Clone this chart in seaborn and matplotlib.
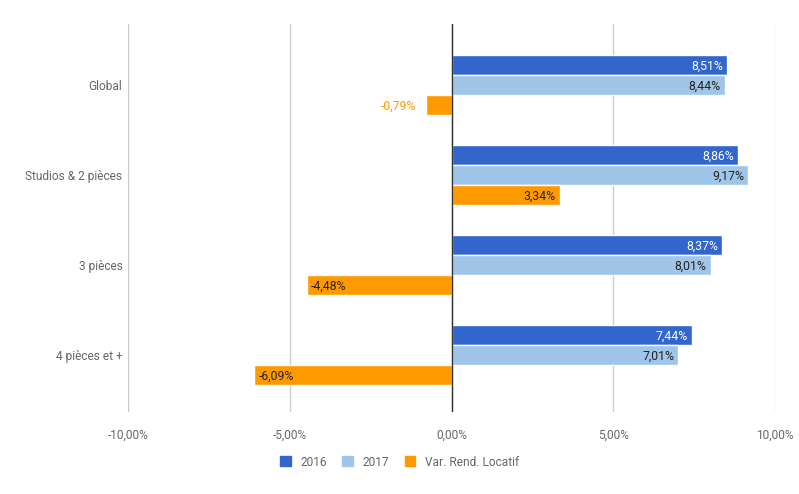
import pandas as pd
import numpy as np
import matplotlib.pyplot as plt
import seaborn as sns
from matplotlib.patches import Patch

# Data
categories = ["Global", "Studios & 2 pièces", "3 pièces", "4 pièces et +"]
series = ["2016", "2017", "Var. Rend. Locatif"]
val_2016 = [8.51, 8.86, 8.37, 7.44]
val_2017 = [8.44, 9.17, 8.01, 7.01]
val_var = [-0.79, 3.34, -4.48, -6.09]
colors = ["#3366CC", "#9FC5E8", "#FF9900"]
label_colors = ["white", "#222222", "#222222"]

df = pd.DataFrame({
    "categorie": categories * 3,
    "serie": [s for s in series for _ in categories],
    "valeur": val_2016 + val_2017 + val_var,
})

sns.set_style("white")
plt.rcParams["font.family"] = ["Roboto", "DejaVu Sans"]

fig = plt.figure(figsize=(7.99, 4.94), dpi=100)
ax = fig.add_axes([128 / 799, 1 - 412 / 494, 647 / 799, 388 / 494])

sns.barplot(data=df, y="categorie", x="valeur", hue="serie", orient="h",
            palette=colors, saturation=1, width=0.667, edgecolor="white", linewidth=1,
            ax=ax, legend=False, zorder=3)

ax.set_xlim(-10, 10)
ax.set_ylim(3.633, -0.678)
ax.set_xticks([-10, -5, 0, 5, 10])
ax.set_xticklabels([f"{t:.2f}%".replace(".", ",") for t in [-10, -5, 0, 5, 10]])
ax.grid(axis="x", color="#cccccc", linewidth=1, zorder=0)
ax.axvline(0, color="#333333", linewidth=1, zorder=4)
for s in ax.spines.values():
    s.set_visible(False)
ax.tick_params(axis="both", length=0, labelsize=8.6, labelcolor="#666666")
ax.tick_params(axis="x", pad=12)
ax.tick_params(axis="y", pad=4)
ax.set_xlabel("")
ax.set_ylabel("")

# Value labels
px = 20 / 647  # data units per pixel (x)
py = 1 / 90    # data units per pixel (y)
for k, cont in enumerate(ax.containers):
    for bar, v in zip(cont, [val_2016, val_2017, val_var][k]):
        y = bar.get_y() + bar.get_height() / 2 + 1 * py
        txt = f"{v:.2f}%".replace(".", ",")
        if abs(v) < 1.5:
            ax.text(v - 10 * px, y, txt, ha="right", va="center", fontsize=8.8, color=colors[k], zorder=5)
        elif v > 0:
            ax.text(v - 4 * px, y, txt, ha="right", va="center", fontsize=8.8, color=label_colors[k], zorder=5)
        else:
            ax.text(v + 4 * px, y, txt, ha="left", va="center", fontsize=8.8, color=label_colors[k], zorder=5)

handles = [Patch(facecolor=c, edgecolor=c) for c in colors]
fig.legend(handles, series, loc="center", bbox_to_anchor=(0.5, 1 - 462 / 494), ncol=3,
           frameon=False, fontsize=8.6, labelcolor="#666666", handlelength=0.9, handleheight=0.9,
           columnspacing=1.3, handletextpad=0.8)

fig.savefig("out.png", dpi=100)
